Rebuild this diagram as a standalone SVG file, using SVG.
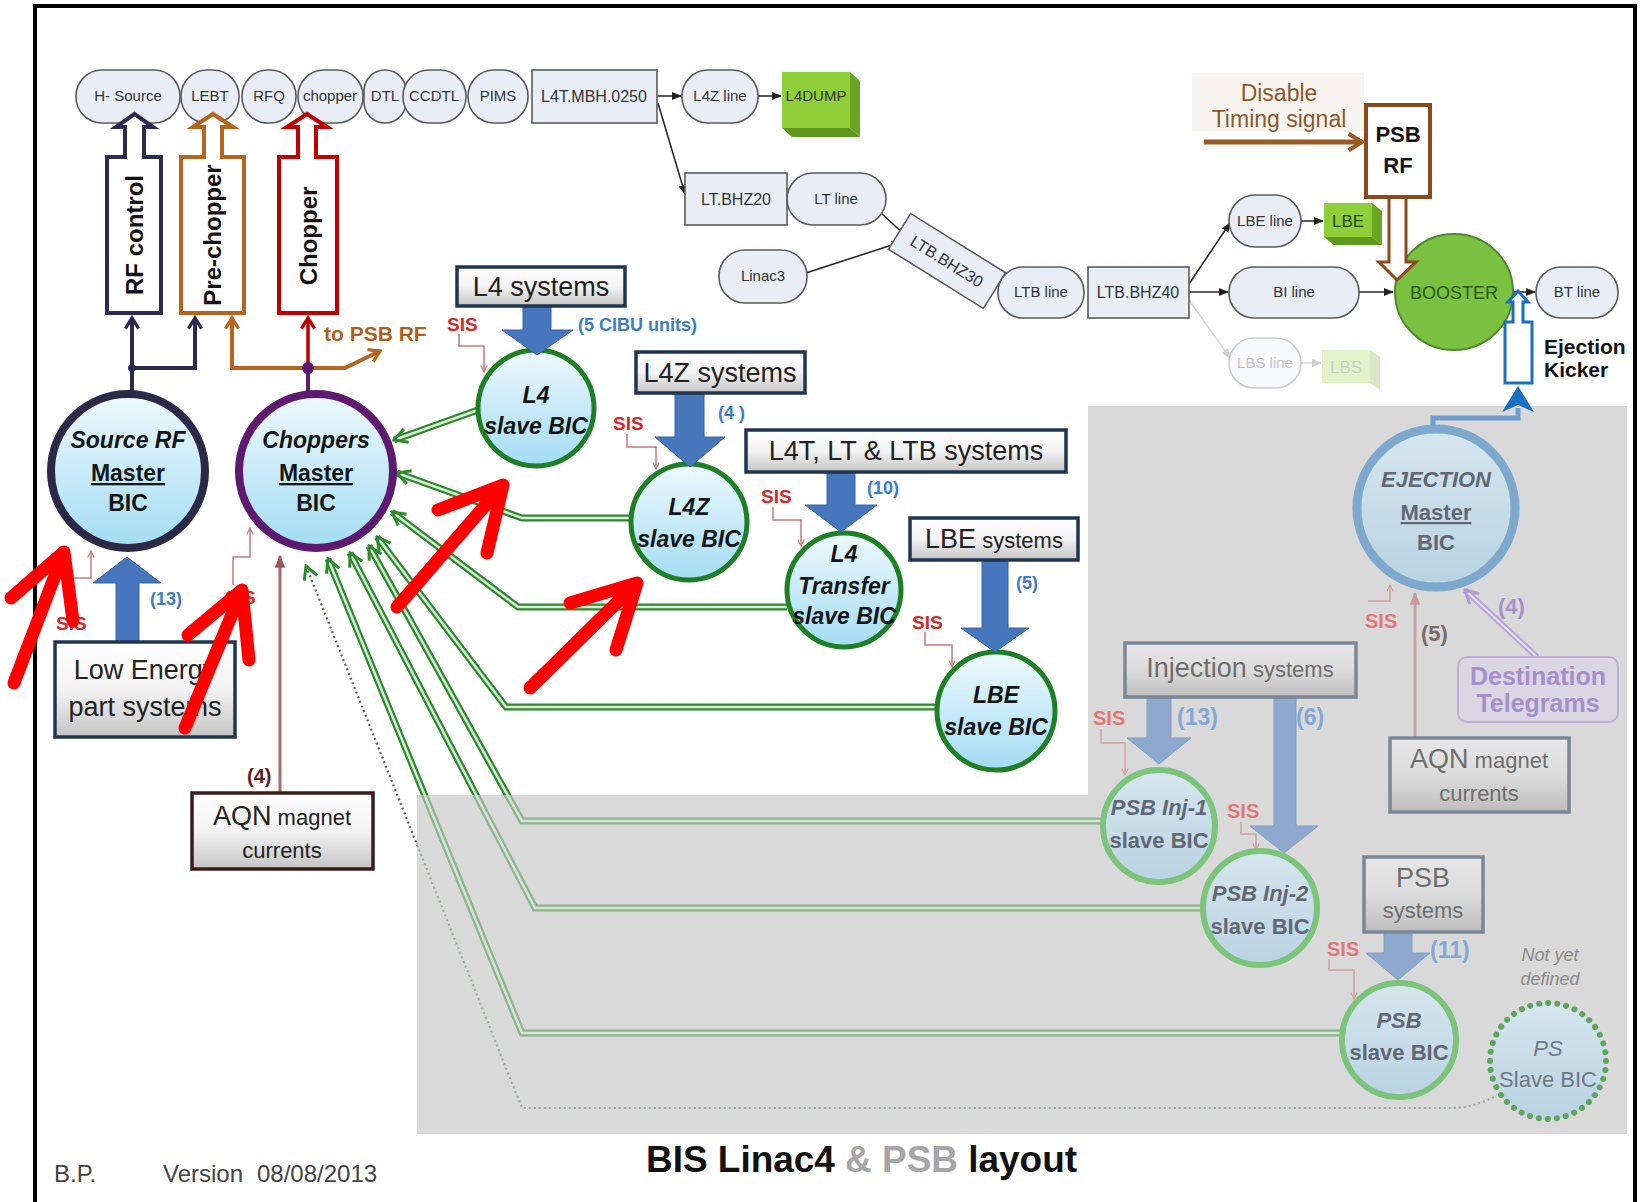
<svg xmlns="http://www.w3.org/2000/svg" width="1640" height="1202" viewBox="0 0 1640 1202">
<defs>
<style>
text{font-family:"Liberation Sans",Arial,sans-serif}
.bl{fill:#e8edf6;stroke:#5a5a5a;stroke-width:1.6}
.blt{font-size:15px;fill:#333;text-anchor:middle}
.blr{font-size:16px;fill:#333;text-anchor:middle}
.sys{fill:url(#gSys);stroke:#1f3550;stroke-width:3.5}
.sysf{fill:url(#gSysF);stroke:#7a8796;stroke-width:3.5}
.st{font-size:27px;fill:#222;text-anchor:middle}
.stf{font-size:27px;fill:#6e6e6e;text-anchor:middle}
.sm{font-size:22px}
.bic{fill:url(#gBic);stroke:#1f7f24;stroke-width:5}
.bicf{fill:url(#gBicF);stroke:#7cc47c;stroke-width:6}
.bt{font-size:23px;font-weight:bold;fill:#151515;text-anchor:middle}
.btf{font-size:22px;font-weight:bold;fill:#626873;text-anchor:middle}
.it{font-style:italic}
.sis{font-size:19px;font-weight:bold;fill:#d42a2a}
.sisf{font-size:20px;font-weight:bold;fill:#e07878}
.sisl{fill:none;stroke:#c47a7a;stroke-width:1.5}
.sislf{fill:none;stroke:#d4a0a0;stroke-width:1.5}
.cnt{font-size:18px;font-weight:bold;fill:#3b7dc4}
.cntf{font-size:23px;font-weight:bold;fill:#84a8d6}
.blk{fill:#4676bb;stroke:#3a64a0;stroke-width:1}
.blkf{fill:#8ea9cd;stroke:#839fc6;stroke-width:1}
.g1{fill:none;stroke:#2f8a2f;stroke-width:7}
.g2{fill:none;stroke:#d8eed8;stroke-width:2.5}
.ar{fill:none;stroke:#222;stroke-width:1.5}
.red{fill:none;stroke:#ff0000;stroke-width:13;stroke-linecap:round;stroke-linejoin:round}
</style>
<linearGradient id="gBic" x1="0" y1="0" x2="0" y2="1"><stop offset="0" stop-color="#eef9fe"/><stop offset="1" stop-color="#a3dcf3"/></linearGradient>
<linearGradient id="gBicF" x1="0" y1="0" x2="0" y2="1"><stop offset="0" stop-color="#d6e6ee"/><stop offset="1" stop-color="#b9d3e2"/></linearGradient>
<linearGradient id="gSys" x1="0" y1="0" x2="0" y2="1"><stop offset="0" stop-color="#ffffff"/><stop offset="0.5" stop-color="#f3f3f3"/><stop offset="1" stop-color="#c4c4c4"/></linearGradient>
<linearGradient id="gSysF" x1="0" y1="0" x2="0" y2="1"><stop offset="0" stop-color="#e6e6e6"/><stop offset="0.5" stop-color="#dcdcdc"/><stop offset="1" stop-color="#bdbdbd"/></linearGradient>
<marker id="mBlk" viewBox="0 0 10 10" refX="9" refY="5" markerWidth="10" markerHeight="10" markerUnits="userSpaceOnUse" orient="auto"><path d="M0,1 L10,5 L0,9 Z" fill="#222"/></marker>
<marker id="mBlkF" viewBox="0 0 10 10" refX="9" refY="5" markerWidth="10" markerHeight="10" markerUnits="userSpaceOnUse" orient="auto"><path d="M0,1 L10,5 L0,9 Z" fill="#d0d0d0"/></marker>
<marker id="mNavy" viewBox="0 0 12 12" refX="10" refY="6" markerWidth="16" markerHeight="16" markerUnits="userSpaceOnUse" orient="auto"><path d="M2,1 L10,6 L2,11" fill="none" stroke="#2e2a4f" stroke-width="2.5"/></marker>
<marker id="mOrg" viewBox="0 0 12 12" refX="10" refY="6" markerWidth="16" markerHeight="16" markerUnits="userSpaceOnUse" orient="auto"><path d="M2,1 L10,6 L2,11" fill="none" stroke="#b5651d" stroke-width="2.5"/></marker>
<marker id="mRed" viewBox="0 0 12 12" refX="10" refY="6" markerWidth="16" markerHeight="16" markerUnits="userSpaceOnUse" orient="auto"><path d="M2,1 L10,6 L2,11" fill="none" stroke="#c00000" stroke-width="2.5"/></marker>
<marker id="mBrn" viewBox="0 0 12 12" refX="10" refY="6" markerWidth="20" markerHeight="20" markerUnits="userSpaceOnUse" orient="auto"><path d="M2,1 L10,6 L2,11" fill="none" stroke="#9c5a26" stroke-width="2.5"/></marker>
<marker id="mGrn" viewBox="0 0 20 20" refX="18" refY="10" markerWidth="20" markerHeight="20" markerUnits="userSpaceOnUse" orient="auto"><path d="M5,3 L18,10 L5,17" fill="none" stroke="#2f8a2f" stroke-width="3"/></marker>
<marker id="mPur" viewBox="0 0 20 20" refX="18" refY="10" markerWidth="20" markerHeight="20" markerUnits="userSpaceOnUse" orient="auto"><path d="M5,3 L18,10 L5,17" fill="none" stroke="#ad9bd2" stroke-width="3"/></marker>
<marker id="mRose" viewBox="0 0 10 10" refX="9" refY="5" markerWidth="13" markerHeight="13" markerUnits="userSpaceOnUse" orient="auto"><path d="M0,1 L10,5 L0,9 Z" fill="#9a5656"/></marker>
<marker id="mRoseF" viewBox="0 0 10 10" refX="9" refY="5" markerWidth="13" markerHeight="13" markerUnits="userSpaceOnUse" orient="auto"><path d="M0,1 L10,5 L0,9 Z" fill="#c89a9a"/></marker>
<marker id="mSis" viewBox="0 0 10 10" refX="9" refY="5" markerWidth="8" markerHeight="8" markerUnits="userSpaceOnUse" orient="auto"><path d="M1,1 L9,5 L1,9" fill="none" stroke="#c47a7a" stroke-width="1.5"/></marker>
<marker id="mSisF" viewBox="0 0 10 10" refX="9" refY="5" markerWidth="8" markerHeight="8" markerUnits="userSpaceOnUse" orient="auto"><path d="M1,1 L9,5 L1,9" fill="none" stroke="#d4a0a0" stroke-width="1.5"/></marker>
</defs>

<rect x="0" y="0" width="1640" height="1202" fill="#ffffff"/>
<path d="M35,1202 V6 H1635 V1202" fill="none" stroke="#000" stroke-width="4"/>

<!-- PSB region background -->
<polygon id="psb-region" points="1088,406 1627,406 1627,1134 417,1134 417,795 1088,795" fill="#d9d9d9"/>

<g id="connectors">
  <!-- green double links to Choppers master -->
  <g>
    <path class="g1" d="M478,410 L394,440"/><path class="g2" d="M478,410 L394,440" marker-end="url(#mGrn)"/>
    <path class="g1" d="M631,518 H522 L397,473"/><path class="g2" d="M631,518 H522 L397,473" marker-end="url(#mGrn)"/>
    <path class="g1" d="M787,607 H518 L392,512"/><path class="g2" d="M787,607 H518 L392,512" marker-end="url(#mGrn)"/>
    <path class="g1" d="M937,707 H506 L377,537"/><path class="g2" d="M937,707 H506 L377,537" marker-end="url(#mGrn)"/>
    <path class="g1" d="M1102,821 H522 L369,546"/><path class="g2" d="M1102,821 H522 L369,546" marker-end="url(#mGrn)"/>
    <path class="g1" d="M1203,908 H535 L350,553"/><path class="g2" d="M1203,908 H535 L350,553" marker-end="url(#mGrn)"/>
    <path class="g1" d="M1342,1033 H522 L328,559"/><path class="g2" d="M1342,1033 H522 L328,559" marker-end="url(#mGrn)"/>
    <path d="M1494,1097 Q1472,1108 1452,1108 H522 L306,566" fill="none" stroke="#4f6f4f" stroke-width="2.2" stroke-dasharray="2 3" marker-end="url(#mGrn)"/>
  </g>
  <!-- master outputs -->
  <path d="M132,392 V318" fill="none" stroke="#2e2a4f" stroke-width="4" marker-end="url(#mNavy)"/>
  <path d="M132,368 H195 V318" fill="none" stroke="#2e2a4f" stroke-width="4" marker-end="url(#mNavy)"/>
  <circle cx="132" cy="368" r="4" fill="#2e2a4f"/>
  <path d="M308,368 H232 V318" fill="none" stroke="#b5651d" stroke-width="4" marker-end="url(#mOrg)"/>
  <path d="M308,368 H345 L380,351" fill="none" stroke="#b5651d" stroke-width="4" marker-end="url(#mOrg)"/>
  <path d="M308,368 V318" fill="none" stroke="#c00000" stroke-width="3.5" marker-end="url(#mRed)"/>
  <path d="M308,394 V368" fill="none" stroke="#5e1a6e" stroke-width="4"/>
  <circle cx="308" cy="368" r="6" fill="#5e1a6e"/>
  <!-- beam line arrows -->
  <path class="ar" d="M657,96 H681" marker-end="url(#mBlk)"/>
  <path class="ar" d="M758,96 H781" marker-end="url(#mBlk)"/>
  <path class="ar" d="M658,103 L685,194" marker-end="url(#mBlk)"/>
  <path class="ar" d="M880,212 L907,237" marker-end="url(#mBlk)"/>
  <path class="ar" d="M806,273 L901,242" marker-end="url(#mBlk)"/>
  <path class="ar" d="M1189,292 H1228" marker-end="url(#mBlk)"/>
  <path class="ar" d="M1189,284 L1230,223" marker-end="url(#mBlk)"/>
  <path class="ar" d="M1301,221 H1323" marker-end="url(#mBlk)"/>
  <path class="ar" d="M1359,292 H1393" marker-end="url(#mBlk)"/>
  <path class="ar" d="M1513,292 H1535" marker-end="url(#mBlk)"/>
  <path d="M1189,300 L1230,358" fill="none" stroke="#d6d6d6" stroke-width="1.5" marker-end="url(#mBlkF)"/>
  <path d="M1301,363 H1321" fill="none" stroke="#d6d6d6" stroke-width="1.5" marker-end="url(#mBlkF)"/>
  <path d="M1204,142 H1362" fill="none" stroke="#9c5a26" stroke-width="5" marker-end="url(#mBrn)"/>
  <!-- AQN left -->
  <path d="M280,793 V556" fill="none" stroke="#a86a6a" stroke-width="3" marker-end="url(#mRose)"/>
  <!-- SIS links -->
  <path class="sisl" d="M70,606 V578 H91 V551" marker-end="url(#mSis)"/>
  <path class="sisl" d="M233,585 V557 H250 V528" marker-end="url(#mSis)"/>
  <path class="sisl" d="M459,334 V346 H484 V372" marker-end="url(#mSis)"/>
  <path class="sisl" d="M627,434 V447 H656 V469" marker-end="url(#mSis)"/>
  <path class="sisl" d="M773,507 V520 H801 V546" marker-end="url(#mSis)"/>
  <path class="sisl" d="M925,632 V645 H952 V667" marker-end="url(#mSis)"/>
</g>

<!-- fading overlay of PSB part -->
<polygon points="1088,406 1627,406 1627,1134 417,1134 417,795 1088,795" fill="#d9d9d9" opacity="0.55"/>

<g id="connectors-psb">
  <path d="M1415,738 V593" fill="none" stroke="#c9a0a0" stroke-width="3" marker-end="url(#mRoseF)"/>
  <path d="M1537,657 L1465,590" fill="none" stroke="#b4a4d4" stroke-width="6"/>
  <path d="M1537,657 L1465,590" fill="none" stroke="#e6e0f0" stroke-width="2" marker-end="url(#mPur)"/>
  <path d="M1433,430 V418 H1518 V408" fill="none" stroke="#6f9ccc" stroke-width="5"/>
  <polygon points="1518,386 1534,412 1518,405 1502,412" fill="#1a6fc0"/>
  <path class="sislf" d="M1368,601 H1390 V585" marker-end="url(#mSisF)"/>
  <path class="sislf" d="M1101,729 V743 H1125 V775" marker-end="url(#mSisF)"/>
  <path class="sislf" d="M1241,822 V834 H1256 V850" marker-end="url(#mSisF)"/>
  <path class="sislf" d="M1329,959 V970 H1354 V999" marker-end="url(#mSisF)"/>
</g>

<!-- beam line elements -->
<g id="n-hsource"><rect class="bl" x="76" y="70" width="104" height="53" rx="26"/><text class="blt" x="128" y="101">H- Source</text></g>
<g id="n-lebt"><rect class="bl" x="181" y="70" width="58" height="53" rx="26"/><text class="blt" x="210" y="101">LEBT</text></g>
<g id="n-rfq"><rect class="bl" x="242" y="70" width="54" height="53" rx="26"/><text class="blt" x="269" y="101">RFQ</text></g>
<g id="n-chopper"><rect class="bl" x="298" y="70" width="65" height="53" rx="26"/><text class="blt" x="330" y="101">chopper</text></g>
<g id="n-dtl"><rect class="bl" x="364" y="70" width="42" height="53" rx="21"/><text class="blt" x="385" y="101">DTL</text></g>
<g id="n-ccdtl"><rect class="bl" x="403" y="70" width="63" height="53" rx="26"/><text class="blt" x="434" y="101">CCDTL</text></g>
<g id="n-pims"><rect class="bl" x="468" y="70" width="60" height="53" rx="26"/><text class="blt" x="498" y="101">PIMS</text></g>
<g id="n-l4tmbh"><rect class="bl" x="532" y="70" width="125" height="53"/><text class="blr" x="594" y="102">L4T.MBH.0250</text></g>
<g id="n-l4zline"><rect class="bl" x="682" y="70" width="76" height="53" rx="26"/><text class="blt" x="720" y="101">L4Z line</text></g>
<g id="n-l4dump">
  <polygon points="850,72 860,81 860,137 850,128" fill="#6aa423"/>
  <polygon points="782,128 850,128 860,137 792,137" fill="#5f9a1e"/>
  <rect x="782" y="72" width="68" height="56" fill="#8fd03a"/>
  <text class="blt" x="816" y="101" font-size="14">L4DUMP</text>
</g>
<g id="n-ltbhz20"><rect class="bl" x="685" y="173" width="102" height="52"/><text class="blr" x="736" y="205">LT.BHZ20</text></g>
<g id="n-ltline"><rect class="bl" x="787" y="173" width="99" height="52" rx="26"/><text class="blt" x="836" y="204">LT line</text></g>
<g id="n-linac3"><rect class="bl" x="719" y="250" width="88" height="53" rx="26"/><text class="blt" x="763" y="281">Linac3</text></g>
<g id="n-ltbbhz30" transform="rotate(32 947 261)"><rect class="bl" x="891" y="240" width="112" height="42"/><text class="blr" x="947" y="267">LTB.BHZ30</text></g>
<g id="n-ltbline"><rect class="bl" x="998" y="267" width="86" height="51" rx="25"/><text class="blt" x="1041" y="297">LTB line</text></g>
<g id="n-ltbbhz40"><rect class="bl" x="1088" y="267" width="101" height="51"/><text class="blr" x="1138" y="298">LTB.BHZ40</text></g>
<g id="n-biline"><rect class="bl" x="1229" y="267" width="130" height="51" rx="25"/><text class="blt" x="1294" y="297">BI line</text></g>
<g id="n-lbeline"><rect class="bl" x="1229" y="195" width="72" height="52" rx="26"/><text class="blt" x="1265" y="226">LBE line</text></g>
<g id="n-lbe">
  <polygon points="1372,203 1382,211 1382,245 1372,237" fill="#6aa423"/>
  <polygon points="1324,237 1372,237 1382,245 1334,245" fill="#5f9a1e"/>
  <rect x="1324" y="203" width="48" height="34" fill="#8fd03a"/>
  <text x="1348" y="227" font-size="17" fill="#1f4a10" text-anchor="middle">LBE</text>
</g>
<g id="n-lbsline" opacity="0.3"><rect class="bl" x="1229" y="338" width="72" height="50" rx="25"/><text class="blt" x="1265" y="368">LBS line</text></g>
<g id="n-lbs" opacity="0.25">
  <polygon points="1370,350 1380,357 1380,390 1370,383" fill="#6aa423"/>
  <rect x="1322" y="350" width="48" height="33" fill="#8fd03a"/>
  <text x="1346" y="373" font-size="17" fill="#1f4a10" text-anchor="middle">LBS</text>
</g>
<g id="n-booster"><ellipse cx="1454" cy="292" rx="59" ry="58" fill="#7ac142" stroke="#4e8a2c" stroke-width="2"/><text x="1454" y="299" font-size="18" fill="#2d5a14" text-anchor="middle">BOOSTER</text></g>
<g id="n-btline"><rect class="bl" x="1536" y="267" width="82" height="51" rx="25"/><text class="blt" x="1577" y="297">BT line</text></g>

<!-- timing / RF -->
<g id="n-disable">
  <rect x="1192" y="73" width="172" height="58" fill="#f8f5f1"/>
  <text x="1279" y="101" font-size="23" fill="#8b5a2b" text-anchor="middle">Disable</text>
  <text x="1279" y="127" font-size="23" fill="#8b5a2b" text-anchor="middle">Timing signal</text>
</g>
<g id="n-psbrf">
  <path d="M1389,197 V262 H1379 L1397,280 L1416,262 H1406 V197" fill="#fff" stroke="#8b4a1c" stroke-width="3"/>
  <rect x="1366" y="105" width="64" height="92" fill="#fff" stroke="#8b4a1c" stroke-width="4"/>
  <text x="1398" y="142" font-size="22" font-weight="bold" fill="#111" text-anchor="middle">PSB</text>
  <text x="1398" y="173" font-size="22" font-weight="bold" fill="#111" text-anchor="middle">RF</text>
</g>
<g id="n-kicker">
  <path d="M1505,383 V322 H1513 V302 H1508 L1518,291 L1528,302 H1523 V322 H1532 V383 Z" fill="#fff" stroke="#1a6fc0" stroke-width="3"/>
  <text x="1544" y="354" font-size="21" font-weight="bold" fill="#111">Ejection</text>
  <text x="1544" y="377" font-size="21" font-weight="bold" fill="#111">Kicker</text>
</g>

<!-- hollow control arrows -->
<g id="n-rfcontrol">
  <path d="M107,313 V157 H125 V127 H116 L134.5,114 L153,127 H144 V157 H161 V313 Z" fill="#fff" stroke="#2e2a4f" stroke-width="4"/>
  <text transform="translate(143,235) rotate(-90)" font-size="24" font-weight="bold" fill="#111" text-anchor="middle">RF control</text>
</g>
<g id="n-prechopper">
  <path d="M181,313 V157 H204 V127 H193 L213,114 L233,127 H222 V157 H244 V313 Z" fill="#fff" stroke="#b5651d" stroke-width="4"/>
  <text transform="translate(221,235) rotate(-90)" font-size="24" font-weight="bold" fill="#111" text-anchor="middle">Pre-chopper</text>
</g>
<g id="n-chopperctl">
  <path d="M279,313 V157 H298 V127 H287 L307,114 L327,127 H316 V157 H337 V313 Z" fill="#fff" stroke="#c00000" stroke-width="4"/>
  <text transform="translate(317,236) rotate(-90)" font-size="24" font-weight="bold" fill="#111" text-anchor="middle">Chopper</text>
</g>
<text x="324" y="341" font-size="21" font-weight="bold" fill="#b0601e">to PSB RF</text>

<!-- master BICs -->
<g id="n-sourcerf">
  <circle cx="128" cy="471" r="77" fill="url(#gBic)" stroke="#2b2946" stroke-width="8"/>
  <text class="bt it" x="128" y="448">Source RF</text>
  <text class="bt" x="128" y="481" text-decoration="underline">Master</text>
  <text class="bt" x="128" y="511">BIC</text>
</g>
<g id="n-choppers">
  <circle cx="316" cy="471" r="77" fill="url(#gBic)" stroke="#5e1a6e" stroke-width="8"/>
  <text class="bt it" x="316" y="448">Choppers</text>
  <text class="bt" x="316" y="481" text-decoration="underline">Master</text>
  <text class="bt" x="316" y="511">BIC</text>
</g>

<!-- slave BICs -->
<g id="n-l4slave"><circle class="bic" cx="536" cy="408" r="58"/><text class="bt it" x="536" y="403">L4</text><text class="bt it" x="536" y="434">slave BIC</text></g>
<g id="n-l4zslave"><circle class="bic" cx="689" cy="522" r="58"/><text class="bt it" x="689" y="515">L4Z</text><text class="bt it" x="689" y="547">slave BIC</text></g>
<g id="n-l4tslave"><circle class="bic" cx="844" cy="590" r="57"/><text class="bt it" x="844" y="562">L4</text><text class="bt it" x="844" y="594">Transfer</text><text class="bt it" x="844" y="624">slave BIC</text></g>
<g id="n-lbeslave"><circle class="bic" cx="996" cy="711" r="59"/><text class="bt it" x="996" y="703">LBE</text><text class="bt it" x="996" y="735">slave BIC</text></g>

<!-- system boxes and block arrows -->
<g id="n-l4sys"><path class="blk" d="M523,305 V330 H502 L537,355 L573,330 H551 V305 Z"/><rect class="sys" x="457" y="267" width="168" height="39"/><text class="st" x="541" y="296">L4 systems</text></g>
<g id="n-l4zsys"><path class="blk" d="M675,393 V437 H655 L690,467 L725,437 H704 V393 Z"/><rect class="sys" x="636" y="352" width="169" height="41"/><text class="st" x="720" y="382">L4Z systems</text></g>
<g id="n-l4tsys"><path class="blk" d="M827,472 V505 H805 L841,532 L877,505 H855 V472 Z"/><rect class="sys" x="746" y="430" width="320" height="42"/><text class="st" x="906" y="460" font-size="26">L4T, LT &amp; LTB systems</text></g>
<g id="n-lbesys"><path class="blk" d="M982,560 V628 H961 L995,652 L1029,628 H1008 V560 Z"/><rect class="sys" x="910" y="518" width="168" height="42"/><text class="st" x="994" y="548">LBE<tspan class="sm"> systems</tspan></text></g>
<g id="n-lowe"><path class="blk" d="M116,642 V583 H93 L127,557 L161,583 H139 V642 Z"/><rect class="sys" x="55" y="642" width="180" height="95"/><text class="st" x="145" y="679">Low Energy</text><text class="st" x="145" y="716">part systems</text></g>
<g id="n-aqnl"><rect x="192" y="793" width="181" height="76" fill="url(#gSys)" stroke="#3a1c1c" stroke-width="3.5"/><text class="st" x="282" y="825">AQN<tspan class="sm"> magnet</tspan></text><text class="st sm" x="282" y="858">currents</text></g>

<text class="cnt" x="578" y="331">(5 CIBU units)</text>
<text class="cnt" x="718" y="419">(4 )</text>
<text class="cnt" x="867" y="494">(10)</text>
<text class="cnt" x="1016" y="589">(5)</text>
<text class="cnt" x="150" y="605">(13)</text>
<text x="247" y="783" font-size="20" font-weight="bold" fill="#5a1f1f">(4)</text>

<text class="sis" x="56" y="630">SIS</text>
<text class="sis" x="225" y="604">SIS</text>
<text class="sis" x="447" y="331">SIS</text>
<text class="sis" x="613" y="430">SIS</text>
<text class="sis" x="761" y="503">SIS</text>
<text class="sis" x="912" y="629">SIS</text>

<!-- PSB part (faded) -->
<g id="n-ejection">
  <circle cx="1436" cy="508" r="79" fill="url(#gBicF)" stroke="#7fa9cc" stroke-width="9"/>
  <text class="btf it" x="1436" y="487" font-size="21">EJECTION</text>
  <text class="btf" x="1436" y="520" font-size="21" text-decoration="underline">Master</text>
  <text class="btf" x="1436" y="550" font-size="21">BIC</text>
</g>
<g id="n-injsys"><path class="blkf" d="M1147,697 V738 H1127 L1159,764 L1191,738 H1171 V697 Z"/><path class="blkf" d="M1274,697 V826 H1250 L1284,853 L1318,826 H1296 V697 Z"/><rect class="sysf" x="1125" y="643" width="231" height="54"/><text class="stf" x="1240" y="677">Injection<tspan class="sm"> systems</tspan></text></g>
<g id="n-aqnr"><rect class="sysf" x="1390" y="738" width="179" height="74" stroke="#777"/><text class="stf" x="1479" y="768">AQN<tspan class="sm"> magnet</tspan></text><text class="stf sm" x="1479" y="801">currents</text></g>
<g id="n-dest"><rect x="1458" y="657" width="160" height="65" rx="9" fill="#dad6e2" stroke="#bcaed8" stroke-width="2"/><text x="1538" y="685" font-size="25" font-weight="bold" fill="#a690cb" text-anchor="middle">Destination</text><text x="1538" y="712" font-size="25" font-weight="bold" fill="#a690cb" text-anchor="middle">Telegrams</text></g>
<g id="n-psbsys"><path class="blkf" d="M1384,932 V953 H1366 L1398,980 L1430,953 H1412 V932 Z"/><rect class="sysf" x="1364" y="857" width="119" height="75"/><text class="stf" x="1423" y="887">PSB</text><text class="stf sm" x="1423" y="918">systems</text></g>
<g id="n-inj1"><circle class="bicf" cx="1159" cy="826" r="56"/><text class="btf it" x="1159" y="815">PSB Inj-1</text><text class="btf" x="1159" y="848">slave BIC</text></g>
<g id="n-inj2"><circle class="bicf" cx="1260" cy="908" r="57"/><text class="btf it" x="1260" y="901">PSB Inj-2</text><text class="btf" x="1260" y="934">slave BIC</text></g>
<g id="n-psbslave"><circle class="bicf" cx="1399" cy="1040" r="57"/><text class="btf it" x="1399" y="1028">PSB</text><text class="btf" x="1399" y="1060">slave BIC</text></g>
<g id="n-psslave"><circle cx="1548" cy="1061" r="58" fill="url(#gBicF)" stroke="#5fa55f" stroke-width="6" stroke-dasharray="0.1 9" stroke-linecap="round"/><text x="1548" y="1056" font-size="22" font-style="italic" fill="#707884" text-anchor="middle">PS</text><text x="1548" y="1087" font-size="22" fill="#707884" text-anchor="middle">Slave BIC</text></g>
<text x="1550" y="961" font-size="18" font-style="italic" fill="#8a8a8a" text-anchor="middle">Not yet</text>
<text x="1550" y="985" font-size="18" font-style="italic" fill="#8a8a8a" text-anchor="middle">defined</text>

<text class="cntf" x="1177" y="725">(13)</text>
<text class="cntf" x="1296" y="725">(6)</text>
<text class="cntf" x="1430" y="958">(11)</text>
<text x="1421" y="641" font-size="22" font-weight="bold" fill="#7d6a6a">(5)</text>
<text x="1498" y="614" font-size="22" font-weight="bold" fill="#a590cb">(4)</text>
<text class="sisf" x="1365" y="628">SIS</text>
<text class="sisf" x="1093" y="725">SIS</text>
<text class="sisf" x="1227" y="818">SIS</text>
<text class="sisf" x="1327" y="956">SIS</text>

<!-- footer -->
<text x="54" y="1182" font-size="24" fill="#444">B.P.</text>
<text x="163" y="1182" font-size="24" fill="#444">Version</text>
<text x="257" y="1182" font-size="24" fill="#444">08/08/2013</text>
<text x="646" y="1172" font-size="36" font-weight="bold" textLength="431" lengthAdjust="spacingAndGlyphs"><tspan fill="#111">BIS Linac4 </tspan><tspan fill="#a6a6a6">&amp; PSB</tspan><tspan fill="#111"> layout</tspan></text>

<!-- red annotation arrows -->
<g id="annotations">
  <path class="red" d="M14,683 L64,552 M11,598 L64,552 L73,621"/>
  <path class="red" d="M185,728 L242,590 M188,635 L242,590 L249,660"/>
  <path class="red" d="M397,607 L503,485 M438,510 L503,485 L487,553"/>
  <path class="red" d="M530,688 L637,583 M570,603 L637,583 L616,650"/>
</g>
</svg>
